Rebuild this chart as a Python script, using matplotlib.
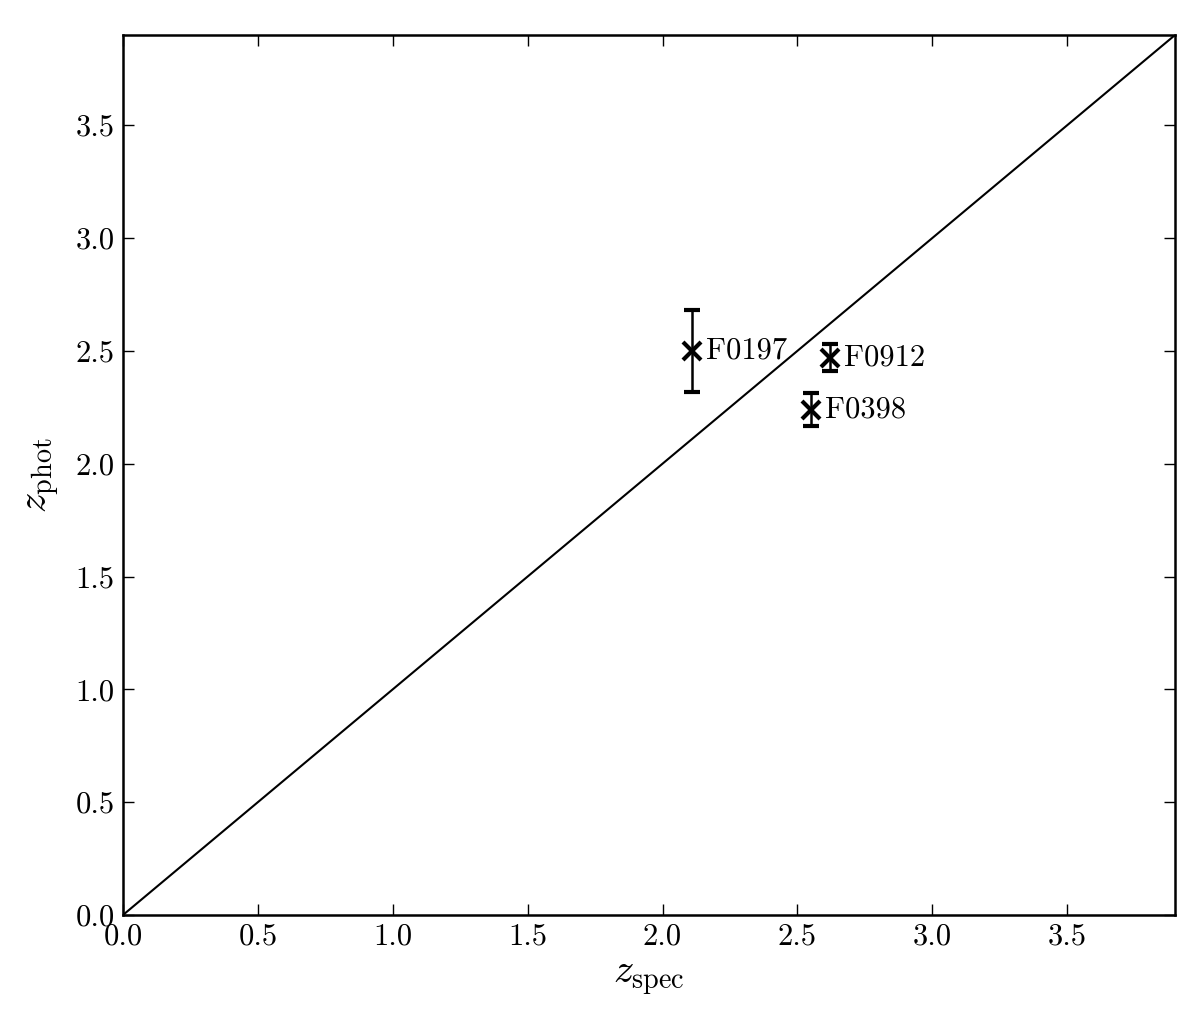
import matplotlib
matplotlib.use('Agg')
import matplotlib.pyplot as plt

plt.rcParams['font.family'] = 'serif'
plt.rcParams['font.serif'] = ['cmr10']
plt.rcParams['mathtext.fontset'] = 'cm'
plt.rcParams['axes.formatter.use_mathtext'] = True

names = ['F0197', 'F0912', 'F0398']
z_spec = [2.11, 2.62, 2.55]
z_phot = [2.50, 2.47, 2.24]
z_err = [0.18, 0.06, 0.075]
lim = [0.0, 3.9]

fig = plt.figure(figsize=(12, 10.18), dpi=100)
ax = fig.add_axes([0.1025, 0.1012, 0.8767, 0.8644])

ax.plot(lim, lim, color='black', linewidth=1.5)
ax.errorbar(z_spec, z_phot, yerr=z_err, fmt='x', color='black',
            markersize=13, markeredgewidth=3, elinewidth=1.8,
            capsize=6, capthick=1.1)

for name, x, y in zip(names, z_spec, z_phot):
    ax.annotate(name, (x, y), xytext=(10, 0), textcoords='offset points',
                ha='left', va='center', fontsize=22)

ax.set_xlim(lim)
ax.set_ylim(lim)
ax.set_xticks([0.0, 0.5, 1.0, 1.5, 2.0, 2.5, 3.0, 3.5])
ax.set_yticks([0.0, 0.5, 1.0, 1.5, 2.0, 2.5, 3.0, 3.5])
ax.set_xticklabels(['0.0', '0.5', '1.0', '1.5', '2.0', '2.5', '3.0', '3.5'])
ax.set_yticklabels(['0.0', '0.5', '1.0', '1.5', '2.0', '2.5', '3.0', '3.5'])
ax.tick_params(direction='in', length=8, width=1, labelsize=22,
               top=True, right=True, pad=6)
for s in ax.spines.values():
    s.set_linewidth(1.8)

ax.set_xlabel(r'$z_{\rm spec}$', fontsize=29, labelpad=8)
ax.set_ylabel(r'$z_{\rm phot}$', fontsize=29, labelpad=10)

fig.savefig('out.png', dpi=100)
